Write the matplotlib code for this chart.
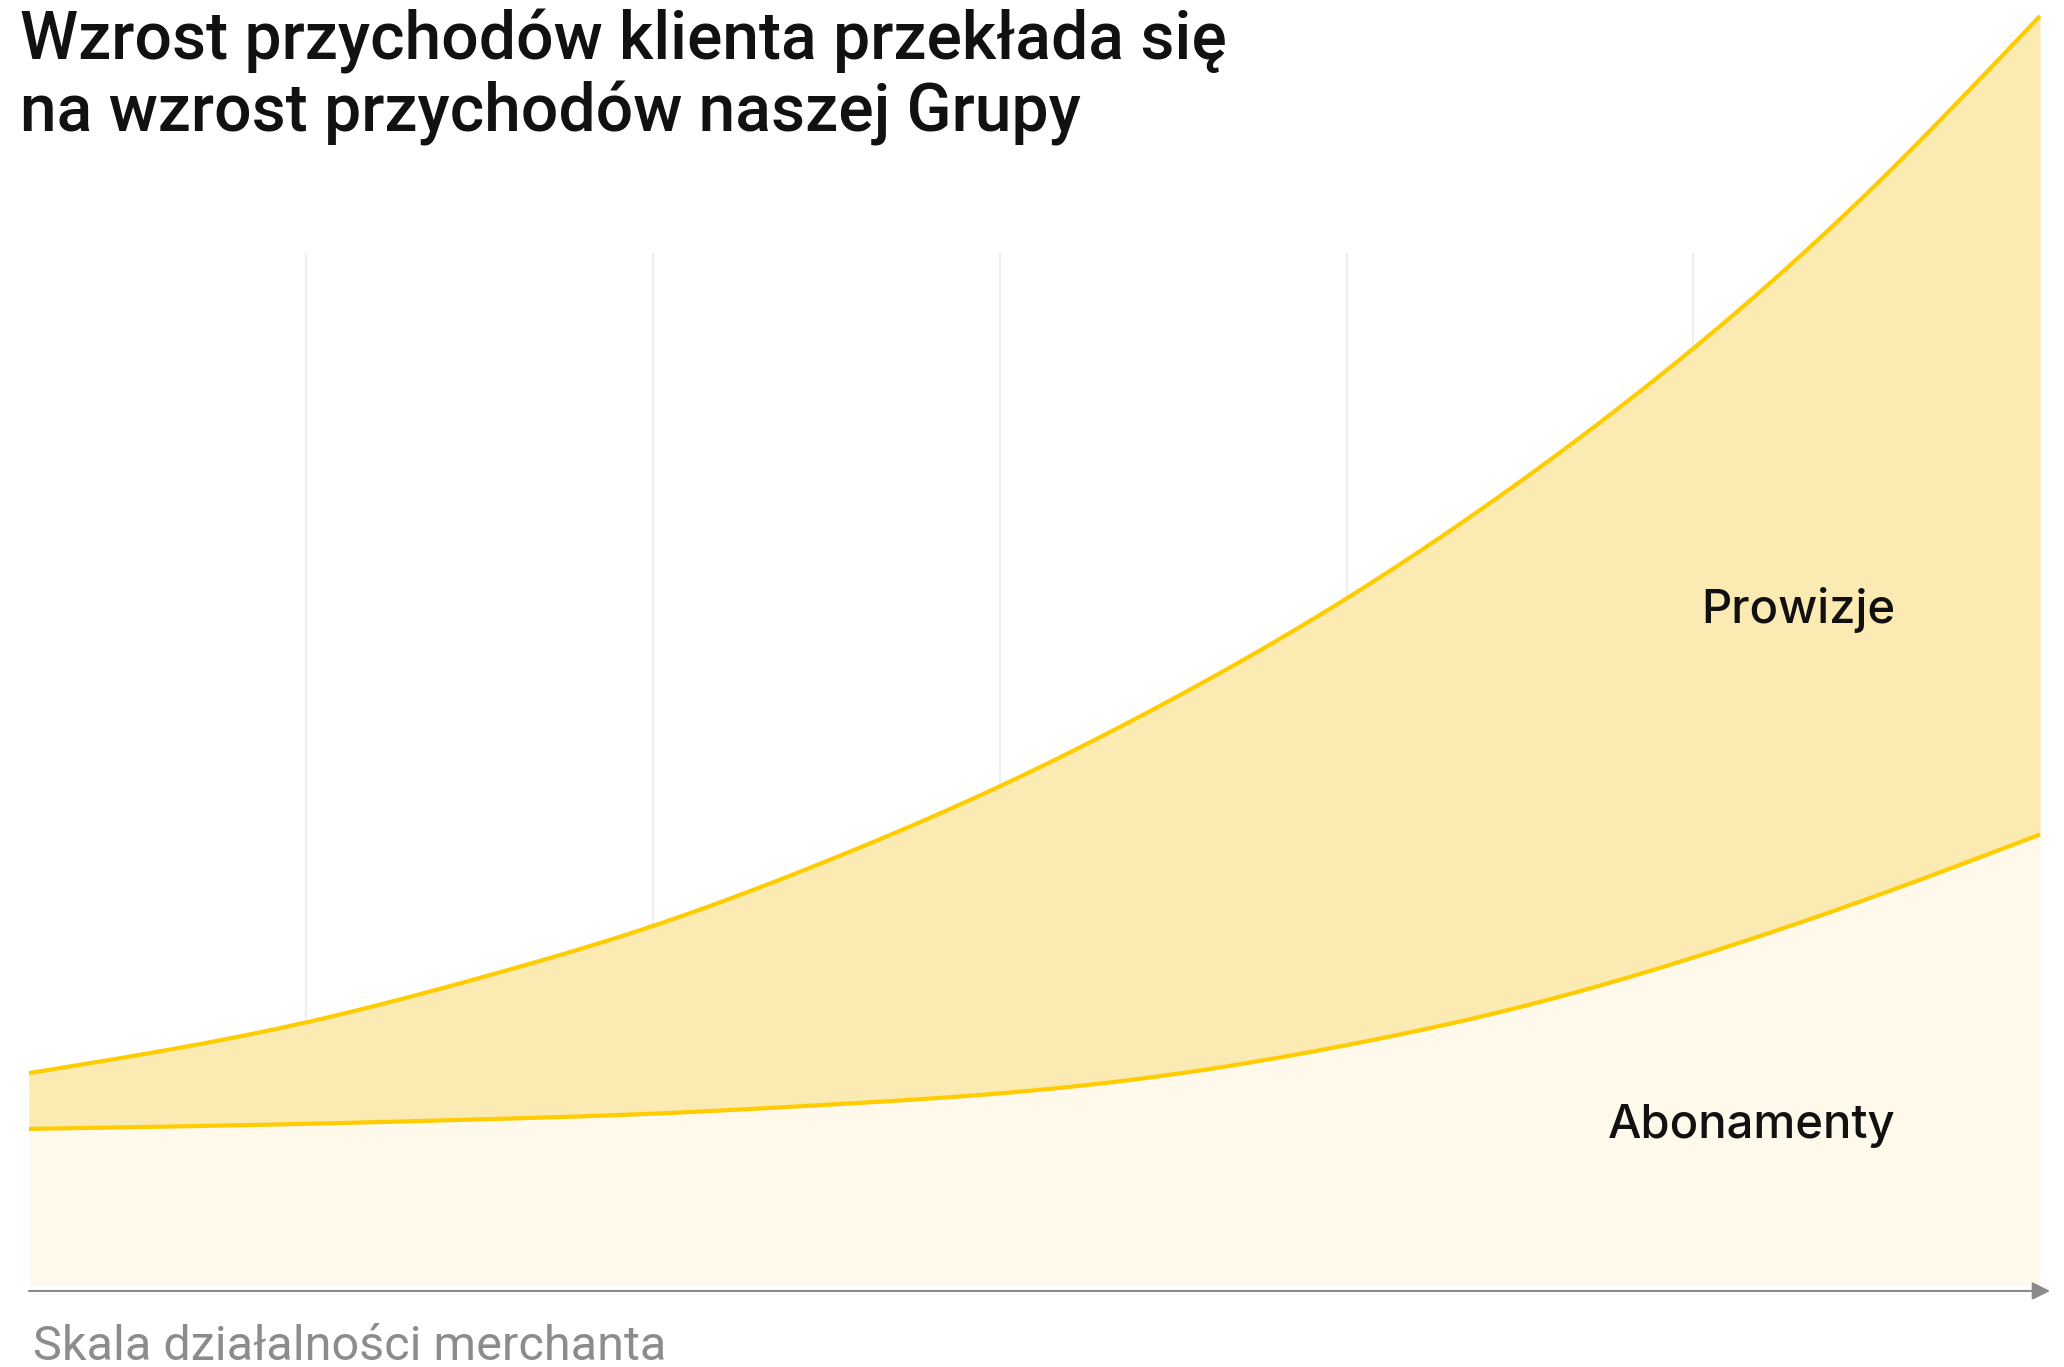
import matplotlib
matplotlib.use("Agg")
import matplotlib.pyplot as plt
import numpy as np

# merchant scale (x) against group revenue index (y)
scale = [0.2, 1.0, 1.5, 2.0, 2.5, 3.0, 3.5, 4.0, 4.5, 5.0, 5.5, 6.0]
abonamenty = [12.3, 12.7, 13.05, 13.5, 14.2, 15.1, 16.6, 18.9, 21.9, 25.8, 30.4, 35.5]
razem = [16.7, 20.7, 24.2, 28.3, 33.4, 39.3, 46.2, 54.1, 63.3, 73.8, 86.0, 100.0]
grid_x = [1, 2, 3, 4, 5]

title_lines = ["Wzrost przychodów klienta przekłada się",
               "na wzrost przychodów naszej Grupy"]
xlabel = "Skala działalności merchanta"

LINE = "#FFCC00"
FILL_TOP = "#FBEAB2"
FILL_LOW = "#FEF9EA"
W, H = 2064, 1367


def spline(x, y, n=400):
    """Natural cubic spline through the points, for smooth drawing."""
    x = np.asarray(x, float)
    y = np.asarray(y, float)
    k = len(x)
    h = np.diff(x)
    A = np.zeros((k, k))
    r = np.zeros(k)
    A[0, 0] = A[-1, -1] = 1
    for i in range(1, k - 1):
        A[i, i - 1] = h[i - 1]
        A[i, i] = 2 * (h[i - 1] + h[i])
        A[i, i + 1] = h[i]
        r[i] = 6 * ((y[i + 1] - y[i]) / h[i] - (y[i] - y[i - 1]) / h[i - 1])
    M = np.linalg.solve(A, r)
    xs = np.linspace(x[0], x[-1], n)
    j = np.clip(np.searchsorted(x, xs) - 1, 0, k - 2)
    a = x[j + 1] - xs
    b = xs - x[j]
    hj = h[j]
    ys = (M[j] * a**3 + M[j + 1] * b**3) / (6 * hj) \
        + (y[j] / hj - M[j] * hj / 6) * a + (y[j + 1] / hj - M[j + 1] * hj / 6) * b
    return xs, ys


fig = plt.figure(figsize=(W / 100, H / 100), dpi=100)
ax = fig.add_axes([29 / W, 82 / H, 2011 / W, 1269 / H])
ax.set_xlim(0.2, 6.0)
ax.set_ylim(0, 100)
ax.axis("off")

xs, low = spline(scale, abonamenty)
_, top = spline(scale, razem)

ax.vlines(grid_x, 0, 81.3, color="#efefef", lw=1.5, zorder=0)
ax.fill_between(xs, 0, low, color=FILL_LOW, lw=0, zorder=1)
ax.fill_between(xs, low, top, color=FILL_TOP, lw=0, zorder=1)
for ys in (low, top):
    ax.plot(xs, ys, color=LINE, lw=3, zorder=3, clip_on=False,
            solid_capstyle="butt")

# horizontal axis arrow
ax.annotate("", xy=(1.005, -0.0047), xytext=(0, -0.0047),
            xycoords="axes fraction",
            arrowprops=dict(arrowstyle="-|>,head_length=1.08,head_width=0.54",
                            color="#8a8a8a", lw=1.5, shrinkA=0, shrinkB=0))

ax.text(5.584, (1285 - 623) / 12.69, "Prowizje", family="Inter", fontsize=34,
        weight="medium", color="#111111", ha="right", va="baseline", zorder=4)
ax.text(5.584, (1285 - 1138) / 12.69, "Abonamenty", family="Inter", fontsize=34,
        weight="medium", color="#111111", ha="right", va="baseline", zorder=4)

fig.text(20 / W, 1 - 60 / H, title_lines[0], family="Roboto", fontsize=47.5,
         weight="medium", color="#111111", va="baseline")
fig.text(20 / W, 1 - 131 / H, title_lines[1], family="Roboto", fontsize=47.5,
         weight="medium", color="#111111", va="baseline")
fig.text(33 / W, 1 - 1360 / H, xlabel, family="Roboto", fontsize=35,
         color="#8c8c8c", va="baseline")

fig.savefig("out.png", dpi=100)
